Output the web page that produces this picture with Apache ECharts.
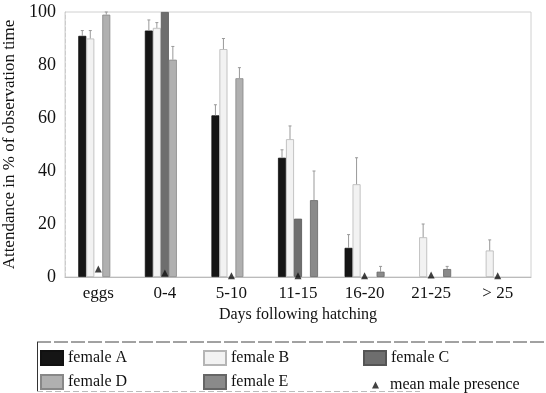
<!DOCTYPE html>
<html>
<head>
<meta charset="utf-8">
<script src="https://cdn.jsdelivr.net/npm/echarts@6/dist/echarts.min.js"></script>
<style>html,body{margin:0;padding:0;background:#fff}#c{width:546px;height:393px}</style>
</head>
<body>
<div id="c"></div>
<script>
const categories = ['eggs', '0-4', '5-10', '11-15', '16-20', '21-25', '> 25'];
const yTicks = [0, 20, 40, 60, 80, 100];
const femaleA = [91, 93, 61, 45, 11, null, null];
const femaleB = [90, 94, 86, 52, 35, 15, 10];
const femaleC = [null, 100, null, 22, null, null, null];
const femaleD = [99, 82, 75, null, null, null, null];
const femaleE = [null, null, null, 29, 2, 3, null];
const maleMean = [3, 1.5, 0.5, 0.5, 0.5, 0.8, 0.5];
// upper end of error bars
const errA = [93, 97, 65, 48, 16, null, null];
const errB = [93, 96, 90, 57, 45, 20, 14];
const errC = [null, null, null, null, null, null, null];
const errD = [100, 87, 79, null, null, null, null];
const errE = [null, null, null, 40, 4, 4, null];

const names = ['female A', 'female B', 'female C', 'female D', 'female E'];
const values = [femaleA, femaleB, femaleC, femaleD, femaleE];
const errs = [errA, errB, errC, errD, errE];
const fills = ['#151515', '#f2f2f2', '#6e6e6e', '#b0b0b0', '#8a8a8a'];
const borders = ['#111', '#b5b5b5', '#555', '#888', '#666'];
const BAR_W = 8;
const FONT = 'Liberation Serif';

const series = [];
names.forEach((n, i) => {
  series.push({
    name: n, type: 'bar', data: values[i], barWidth: BAR_W, barGap: '0%',
    itemStyle: {color: fills[i], borderColor: borders[i], borderWidth: 0.8}, z: 2
  });
});
// error bars
names.forEach((n, i) => {
  const data = [];
  categories.forEach((c, k) => {
    if (values[i][k] != null && errs[i][k] != null) data.push([k, values[i][k], errs[i][k]]);
  });
  series.push({
    type: 'custom', z: 3, silent: true,
    data: data,
    encode: {x: 0, y: [1, 2]},
    renderItem: function (params, api) {
      const lo = api.coord([api.value(0), api.value(1)]);
      const hi = api.coord([api.value(0), api.value(2)]);
      const x = lo[0] + (i - 2) * BAR_W;
      return {
        type: 'group',
        children: [
          {type: 'line', shape: {x1: x, y1: lo[1], x2: x, y2: hi[1]}, style: {stroke: '#999', lineWidth: 1}},
          {type: 'line', shape: {x1: x - 1.5, y1: hi[1], x2: x + 1.5, y2: hi[1]}, style: {stroke: '#999', lineWidth: 1}}
        ]
      };
    }
  });
});
series.push({
  name: 'mean male presence', type: 'scatter', data: maleMean,
  symbol: 'triangle', symbolSize: 7, itemStyle: {color: '#111'}, z: 5
});

function leg(name, left, top, small) {
  return {
    show: true, orient: 'horizontal', left: left, top: top,
    icon: small ? 'triangle' : 'rect',
    itemWidth: small ? 7 : 22, itemHeight: small ? 7 : 14, itemGap: 6,
    textStyle: {fontFamily: FONT, fontSize: 16, color: '#111', padding: small ? [0, 0, 0, 6] : 0},
    padding: 0,
    data: [name]
  };
}
const option = {
  animation: false,
  backgroundColor: '#fff',
  grid: {left: 65, right: 15, top: 12, bottom: 116, show: true, borderColor: '#d0d0d0', borderWidth: 1,
    containLabel: false, outerBoundsMode: 'none'},
  xAxis: {
    type: 'category', data: categories,
    axisLine: {lineStyle: {color: '#bbb'}}, axisTick: {show: false},
    axisLabel: {fontFamily: FONT, fontSize: 17, color: '#111', margin: 8},
    name: 'Days following hatching', nameLocation: 'middle', nameGap: 26,
    nameTextStyle: {fontFamily: FONT, fontSize: 16, color: '#111'}
  },
  yAxis: {
    type: 'value', min: 0, max: 100, interval: 20,
    axisLine: {show: true, lineStyle: {color: '#ccc', type: 'dashed'}}, axisTick: {show: false},
    splitLine: {show: false},
    axisLabel: {fontFamily: FONT, fontSize: 18, color: '#111', margin: 9,
      formatter: v => yTicks.includes(v) ? String(v) : ''},
    name: 'Attendance in % of observation time', nameLocation: 'middle', nameGap: 46,
    nameTextStyle: {fontFamily: FONT, fontSize: 17, color: '#111'}
  },
  legend: [
    leg('female A', 40, 350, false),
    leg('female D', 40, 374, false),
    leg('female B', 203, 350, false),
    leg('female E', 203, 374, false),
    leg('female C', 363, 350, false),
    leg('mean male presence', 372, 377, true)
  ],
  graphic: [
    {type: 'line', shape: {x1: 37, y1: 342, x2: 546, y2: 342}, style: {stroke: '#444', lineWidth: 1, lineDash: [14, 3]}},
    {type: 'line', shape: {x1: 37.5, y1: 342, x2: 37.5, y2: 392}, style: {stroke: '#333', lineWidth: 1}},
    {type: 'line', shape: {x1: 37, y1: 391.5, x2: 420, y2: 391.5}, style: {stroke: '#bbb', lineWidth: 1, lineDash: [6, 3]}}
  ],
  series: series
};
echarts.init(document.getElementById('c')).setOption(option);
</script>
</body>
</html>
